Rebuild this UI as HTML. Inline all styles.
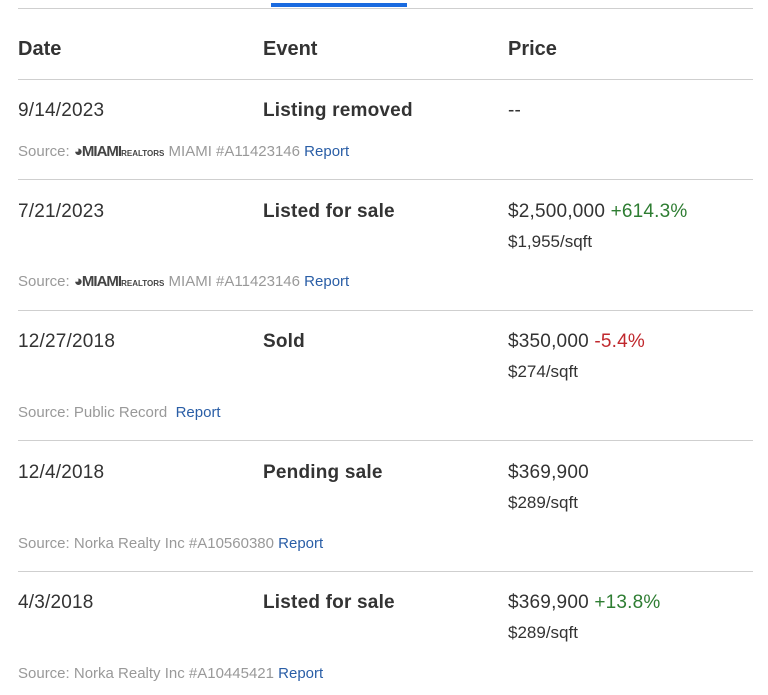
<!DOCTYPE html>
<html><head><style>
body{margin:0;width:768px;height:695px;background:#fff;font-family:"Liberation Sans",sans-serif;color:#333;position:relative;overflow:hidden}
.a{position:absolute;white-space:nowrap}
.ln{position:absolute;left:18px;width:735px;height:1px;background:#cfcfcf}
.h{font-size:20px;font-weight:bold;color:#333}
.m{font-size:19px;color:#333;letter-spacing:0.2px}
.b{font-weight:bold}
.s{font-size:15px;color:#999}
.p{font-size:17px;color:#333}
.r{color:#2a5ea6}
.g{color:#2e7d32}
.red{color:#c0282d}
.logo{font-weight:900;color:#444;letter-spacing:-1px}
.logo small{font-size:8px;letter-spacing:0}
</style></head><body>
<div class="ln" style="top:8px"></div>
<div class="a" style="left:271px;top:3px;width:136px;height:4px;background:#1a6be0"></div>
<div class="a h" style="left:18px;top:38px">Date</div>
<div class="a h" style="left:263px;top:38px">Event</div>
<div class="a h" style="left:508px;top:38px">Price</div>
<div class="ln" style="top:79px"></div>

<div class="a m" style="left:18px;top:100px">9/14/2023</div>
<div class="a m b" style="left:263px;top:100px">Listing removed</div>
<div class="a m" style="left:508px;top:100px">--</div>
<div class="a s" style="left:18px;top:143px">Source: <span class="logo">◕MIAMI<small>REALTORS</small></span> MIAMI #A11423146 <span class="r">Report</span></div>
<div class="ln" style="top:179px"></div>

<div class="a m" style="left:18px;top:201px">7/21/2023</div>
<div class="a m b" style="left:263px;top:201px">Listed for sale</div>
<div class="a m" style="left:508px;top:201px">$2,500,000 <span class="g">+614.3%</span></div>
<div class="a p" style="left:508px;top:232px">$1,955/sqft</div>
<div class="a s" style="left:18px;top:273px">Source: <span class="logo">◕MIAMI<small>REALTORS</small></span> MIAMI #A11423146 <span class="r">Report</span></div>
<div class="ln" style="top:310px"></div>

<div class="a m" style="left:18px;top:331px">12/27/2018</div>
<div class="a m b" style="left:263px;top:331px">Sold</div>
<div class="a m" style="left:508px;top:331px">$350,000 <span class="red">-5.4%</span></div>
<div class="a p" style="left:508px;top:362px">$274/sqft</div>
<div class="a s" style="left:18px;top:404px">Source: Public Record &nbsp;<span class="r">Report</span></div>
<div class="ln" style="top:440px"></div>

<div class="a m" style="left:18px;top:462px">12/4/2018</div>
<div class="a m b" style="left:263px;top:462px">Pending sale</div>
<div class="a m" style="left:508px;top:462px">$369,900</div>
<div class="a p" style="left:508px;top:493px">$289/sqft</div>
<div class="a s" style="left:18px;top:535px">Source: Norka Realty Inc #A10560380 <span class="r">Report</span></div>
<div class="ln" style="top:571px"></div>

<div class="a m" style="left:18px;top:592px">4/3/2018</div>
<div class="a m b" style="left:263px;top:592px">Listed for sale</div>
<div class="a m" style="left:508px;top:592px">$369,900 <span class="g">+13.8%</span></div>
<div class="a p" style="left:508px;top:623px">$289/sqft</div>
<div class="a s" style="left:18px;top:665px">Source: Norka Realty Inc #A10445421 <span class="r">Report</span></div>
</body></html>
